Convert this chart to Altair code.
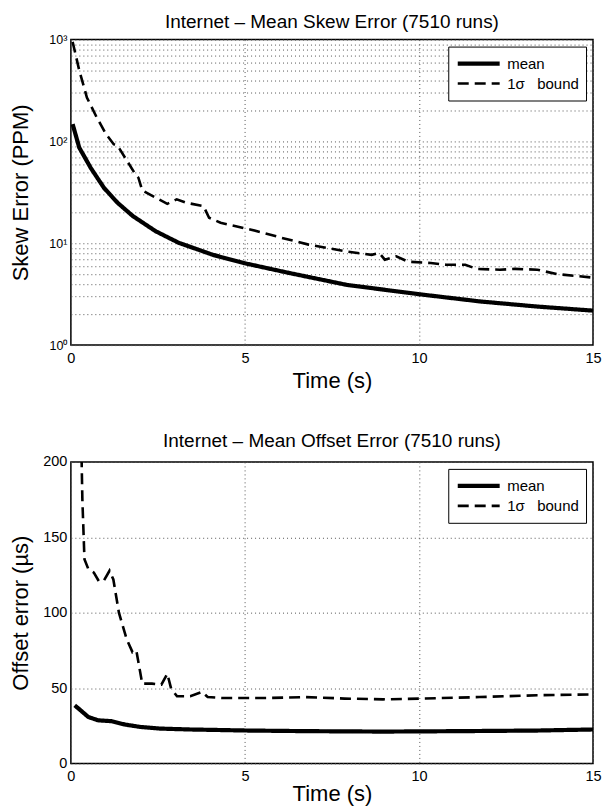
import altair as alt
import pandas as pd

FONT = "Liberation Sans"
MEAN = "mean"
BOUND = "1σ\u00a0\u00a0 bound"

# ---- top panel: skew error (PPM), log scale ----
skew_mean_t = [0.05, 0.24, 0.57, 0.95, 1.34, 1.78, 2.44, 3.1, 4.08, 4.96, 6.28, 7.93, 10.0, 11.77, 13.4, 15.0]
skew_mean_v = [148, 87, 55, 35, 25, 18.5, 13.1, 10.1, 7.7, 6.4, 5.1, 3.9, 3.16, 2.68, 2.39, 2.18]
skew_bound_t = [0.05, 0.24, 0.46, 0.74, 1.01, 1.23, 1.34, 1.67, 1.83, 1.94, 2.05, 2.44, 2.77, 3.04, 3.31,
                3.81, 3.97, 4.3, 5.18, 6.06, 6.83, 7.93, 8.64, 8.86, 9.02, 9.35, 9.68, 10.34, 10.78,
                11.33, 11.66, 12.32, 12.76, 13.4, 13.96, 15.0]
skew_bound_v = [950, 500, 270, 173, 118, 94, 91, 60, 49, 44, 33, 28, 24.4, 27, 25,
                23.2, 17.8, 15.9, 13.6, 11.3, 9.7, 8.3, 7.7, 8.0, 6.9, 7.45, 6.6, 6.4, 6.15,
                6.15, 5.6, 5.5, 5.6, 5.5, 4.98, 4.6]

# ---- bottom panel: offset error (us) ----
off_mean_t = [0.11, 0.28, 0.5, 0.78, 1.16, 1.55, 1.99, 2.55, 3.43, 5.09, 6.75, 8.97, 11.18, 13.4, 15.0]
off_mean_v = [38.5, 35.2, 30.8, 28.6, 28, 25.8, 24.2, 23.1, 22.5, 21.8, 21.4, 21.1, 21.4, 21.8, 22.5]
off_bound_t = [0.26, 0.33, 0.39, 0.5, 0.66, 0.8, 0.94, 1.11, 1.22, 1.38, 1.6, 1.77, 1.88, 2.05, 2.33,
               2.6, 2.77, 2.88, 3.05, 3.43, 3.77, 3.93, 4.32, 5.65, 6.75, 7.86, 8.97, 10.08, 11.74,
               13.4, 15.0]
off_bound_v = [260, 175, 135.5, 129, 126.6, 121, 121, 127.8, 122, 100, 82.6, 73.8, 75, 52.9, 52.9,
               52.2, 59.5, 49.6, 44.5, 44.5, 47.4, 44, 43.4, 43.4, 44, 43, 42.5, 43, 44,
               45.2, 45.8]

x_ticks = [0, 5, 10, 15]
log_ticks = [m * 10 ** k for k in range(3) for m in range(1, 10)] + [1000]
lin_ticks = [0, 50, 100, 150, 200]


def long_df(t1, v1, t2, v2):
    a = pd.DataFrame({"t": t1, "v": v1, "series": MEAN, "o": range(len(t1))})
    b = pd.DataFrame({"t": t2, "v": v2, "series": BOUND, "o": range(len(t2))})
    return pd.concat([a, b], ignore_index=True)


skew_df = long_df(skew_mean_t, skew_mean_v, skew_bound_t, skew_bound_v)
off_df = long_df(off_mean_t, off_mean_v, off_bound_t, off_bound_v)


def enc_style():
    leg = alt.Legend(title=None, orient="top-right", offset=7)
    dash = alt.StrokeDash("series:N",
                          scale=alt.Scale(domain=[MEAN, BOUND], range=[[1, 0], [11, 6]]),
                          legend=leg)
    width = alt.StrokeWidth("series:N",
                            scale=alt.Scale(domain=[MEAN, BOUND], range=[4.2, 2.6]),
                            legend=leg)
    return dash, width


def x_axis(tp):
    return alt.Axis(values=x_ticks, title="Time (s)", grid=True, tickSize=0, labelPadding=6,
                    titlePadding=tp, labelFontSize=14.5, titleFontSize=22, domain=False,
                    labelFlush=False)


dash, width = enc_style()
top = alt.Chart(skew_df).mark_line(color="black", clip=True).encode(
    x=alt.X("t:Q", scale=alt.Scale(domain=[0, 15], nice=False), axis=x_axis(6)),
    y=alt.Y("v:Q", scale=alt.Scale(type="log", domain=[1, 1000], nice=False),
            axis=alt.Axis(values=log_ticks, title="Skew Error (PPM)", grid=True, tickSize=0,
                          labelPadding=4, labelFontSize=12.5, titleFontSize=22, domain=False,
                          titleX=-38, titleY=153,
                          labelExpr="datum.value == 1 ? '10⁰' : datum.value == 10 ? '10¹' : datum.value == 100 ? '10²' : datum.value == 1000 ? '10³' : ''")),
    strokeDash=dash,
    strokeWidth=width,
    order="o:Q",
).properties(
    width=523, height=306,
    title=alt.TitleParams("Internet – Mean Skew Error (7510 runs)", fontSize=19, font=FONT,
                          fontWeight="normal", offset=1.5, color="black"),
)

dash2, width2 = enc_style()
bottom = alt.Chart(off_df).mark_line(color="black", clip=True).encode(
    x=alt.X("t:Q", scale=alt.Scale(domain=[0, 15], nice=False), axis=x_axis(1)),
    y=alt.Y("v:Q", scale=alt.Scale(domain=[0, 200], nice=False),
            axis=alt.Axis(values=lin_ticks, title="Offset error (µs)", grid=True, tickSize=0,
                          labelPadding=4, labelFontSize=14.5, titleFontSize=22, domain=False,
                          titleX=-38, titleY=151)),
    strokeDash=dash2,
    strokeWidth=width2,
    order="o:Q",
).properties(
    width=523, height=302,
    title=alt.TitleParams("Internet – Mean Offset Error (7510 runs)", fontSize=19, font=FONT,
                          fontWeight="normal", offset=3, color="black"),
)

chart = alt.concat(top, bottom, columns=1, spacing=38, align="none").resolve_scale(
    strokeDash="independent", strokeWidth="independent"
).resolve_legend(
    strokeDash="independent", strokeWidth="independent"
).properties(
    padding={"left": 9, "top": 11, "right": 0, "bottom": 0}
).configure(
    font=FONT, background="white"
).configure_view(
    stroke="black", strokeWidth=1.5
).configure_axis(
    labelFont=FONT, titleFont=FONT, labelColor="black", titleColor="black",
    titleFontWeight="normal", gridColor="#555555", gridDash=[1, 3], gridWidth=1, gridOpacity=1,
).configure_legend(
    strokeColor="black", fillColor="white", padding=7,
    labelFont=FONT, labelFontSize=15, labelColor="black", symbolType="stroke", symbolSize=1764,
    symbolStrokeColor="black", clipHeight=20, labelOffset=5, rowPadding=0, cornerRadius=0,
    strokeWidth=1,
)

chart.save("out.html", embed_options={"renderer": "svg", "actions": False})
